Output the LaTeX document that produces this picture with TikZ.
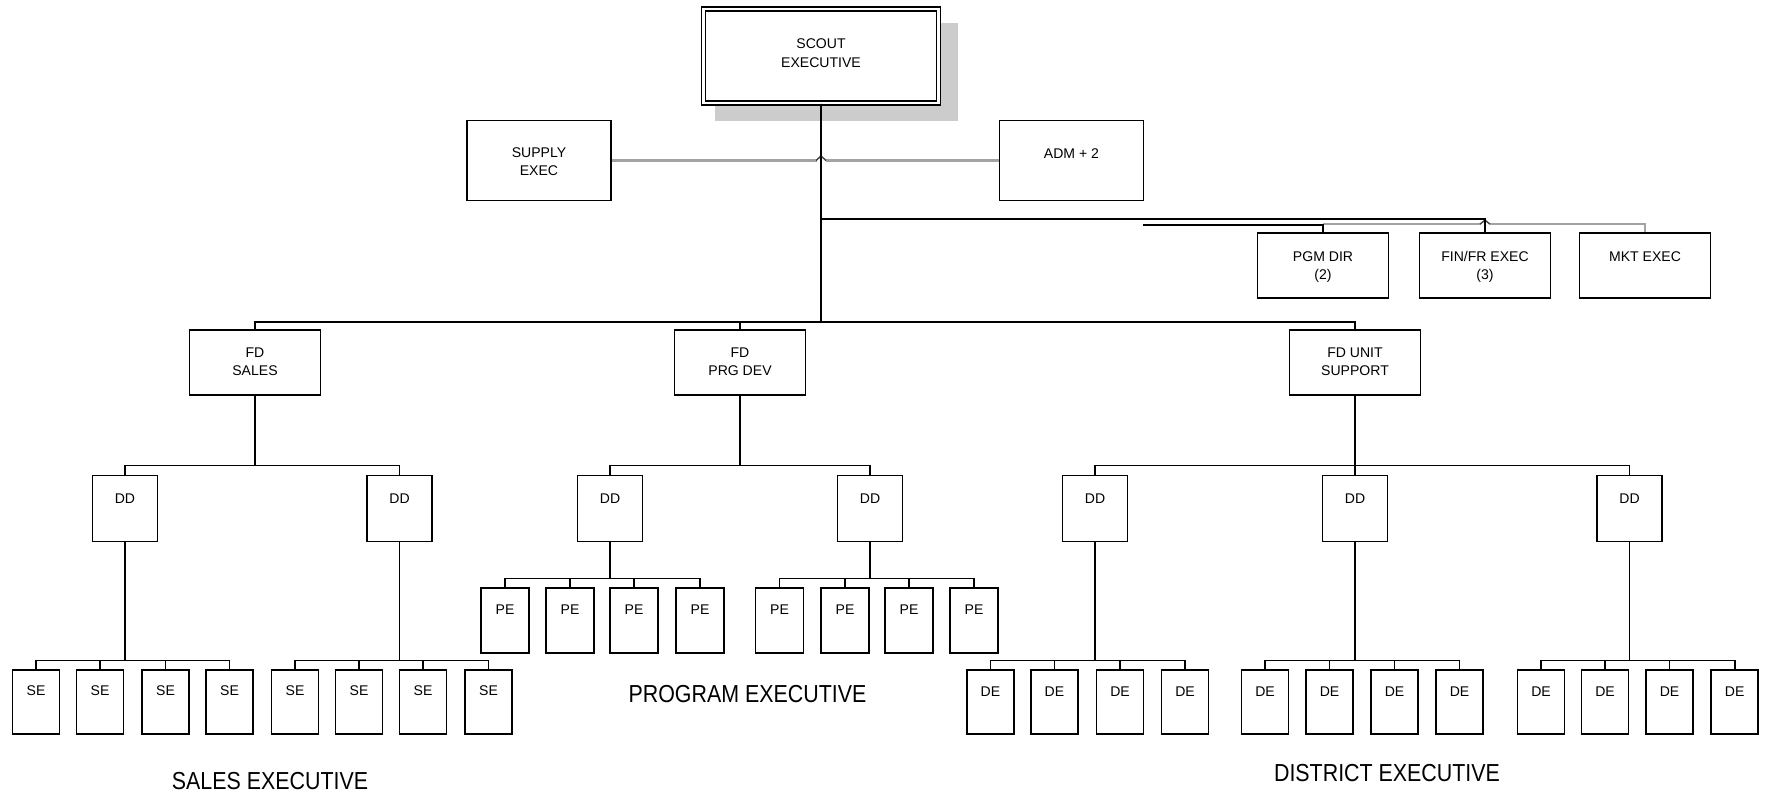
\documentclass[tikz,border=0pt]{standalone}
\usepackage{fontspec}
\setmainfont{Liberation Sans}
\newfontfamily\captionfont[FakeStretch=0.87]{Liberation Sans}
\begin{document}
\begin{tikzpicture}[x=0.02cm,y=-0.02cm,
  box/.style={draw, line width=0.95pt, inner sep=0pt, fill=white},
  scoutbox/.style={draw, fill=white, line width=0.8pt, double, double distance=1.5pt,
    inner sep=0pt, minimum width=4.71cm, minimum height=1.88cm},
  sidebox/.style={box, minimum width=2.88cm, minimum height=1.6cm},
  midbox/.style={box, minimum width=2.62cm, minimum height=1.3cm},
  ddbox/.style={box, minimum width=1.3cm, minimum height=1.32cm},
  pebox/.style={box, minimum width=0.96cm, minimum height=1.3cm},
  sebox/.style={box, minimum width=0.94cm, minimum height=1.28cm},
  boxtext/.style={anchor=north, inner sep=0pt, align=center,
    font=\fontsize{8}{10.2}\selectfont},
  txt/.style 2 args={label={[boxtext, yshift=-#1]north:{#2}}},
  caption/.style={inner sep=0pt, font=\captionfont\fontsize{14}{16}\selectfont},
  conn/.style={draw=black, line width=0.9pt},
  grayline/.style={draw=black!36, line width=1.5pt},
  hop/.style={draw=black!75, line width=0.8pt},
]
\useasboundingbox (0,0) rectangle (1765,795);

% shadow behind the top box
\fill[black!20] (715,23) rectangle (958,121);

% top of the chart
\node[scoutbox, label={[boxtext, font=\fontsize{8}{10.8}\selectfont, yshift=-0.6cm]north:{SCOUT\\EXECUTIVE}}] (scout) at (821,56) {};
\node[sidebox, txt={0.56cm}{SUPPLY\\EXEC}] (supply) at (539,160.5) {};
\node[sidebox, txt={0.58cm}{ADM + 2}] (adm) at (1071.5,160.5) {};

% staff row
\node[midbox, txt={0.38cm}{PGM DIR\\(2)}] (pgm) at (1323,265.5) {};
\node[midbox, txt={0.38cm}{FIN/FR EXEC\\(3)}] (fin) at (1485,265.5) {};
\node[midbox, txt={0.38cm}{MKT EXEC}] (mkt) at (1645,265.5) {};

% field directors
\node[midbox, txt={0.36cm}{FD\\SALES}] (fds) at (255,362.5) {};
\node[midbox, txt={0.36cm}{FD\\PRG DEV}] (fdp) at (740,362.5) {};
\node[midbox, txt={0.36cm}{FD UNIT\\SUPPORT}] (fdu) at (1355,362.5) {};

% district directors
\foreach \n/\x in {dd1/125, dd2/399.5, dd3/610, dd4/870, dd5/1095, dd6/1355, dd7/1629.5}
  \node[ddbox, txt={0.38cm}{DD}] (\n) at (\x,508.5) {};

% program executives
\foreach \n/\x in {pe1/505, pe2/570, pe3/634, pe4/700, pe5/779.5, pe6/845, pe7/909, pe8/974}
  \node[pebox, txt={0.34cm}{PE}] (\n) at (\x,620.5) {};

% sales executives
\foreach \n/\x in {se1/36, se2/100, se3/165.5, se4/229.5, se5/295, se6/359, se7/423, se8/488.5}
  \node[sebox, txt={0.32cm}{SE}] (\n) at (\x,702) {};

% district executives
\foreach \n/\x in {de1/990.5, de2/1054.5, de3/1120, de4/1185, de5/1265, de6/1329.5,
                   de7/1394.5, de8/1459.5, de9/1541, de10/1605, de11/1669.5, de12/1734.7}
  \node[sebox, txt={0.34cm}{DE}] (\n) at (\x,702) {};

% group captions
\node[caption] (salescap) at (270,781) {SALES EXECUTIVE};
\node[caption] (progcap) at (747.5,694.5) {PROGRAM EXECUTIVE};
\node[caption] (distcap) at (1387,773) {DISTRICT EXECUTIVE};

% staff lines (gray) with hops over the black verticals
\coordinate (x1) at (supply.east -| scout.south);
\draw[grayline] (supply.east) -- ([xshift=-0.09cm]x1);
\draw[grayline] ([xshift=0.09cm]x1) -- (adm.west);
\draw[hop] ([xshift=-0.1cm]x1) -- ([yshift=0.09cm]x1) -- ([xshift=0.1cm]x1);

\coordinate (x2) at ([yshift=0.16cm]fin.north);
\draw[grayline] ([yshift=0.16cm]pgm.north) -- ([xshift=-0.09cm]x2);
\draw[grayline] ([xshift=0.09cm]x2) -| (mkt.north);
\draw[hop] ([xshift=-0.1cm]x2) -- ([yshift=0.08cm]x2) -- ([xshift=0.1cm]x2);

% black reporting lines at the top
\coordinate (stub) at (1143,225);
\draw[conn] (stub) -| (pgm.north);
\draw[conn] (scout.south) |- ([yshift=0.26cm]fin.north) -- (fin.north);
\foreach \c in {fds, fdp, fdu}
  \draw[conn] (scout.south) |- ([yshift=0.14cm]\c.north) -- (\c.north);

% field directors to district directors
\foreach \p/\c in {fds/dd1, fds/dd2, fdp/dd3, fdp/dd4, fdu/dd5, fdu/dd6, fdu/dd7}
  \draw[conn] (\p.south) |- ([yshift=0.18cm]\c.north) -- (\c.north);

% district directors to their executives
\foreach \p/\c in {dd3/pe1, dd3/pe2, dd3/pe3, dd3/pe4, dd4/pe5, dd4/pe6, dd4/pe7, dd4/pe8,
                   dd1/se1, dd1/se2, dd1/se3, dd1/se4, dd2/se5, dd2/se6, dd2/se7, dd2/se8,
                   dd5/de1, dd5/de2, dd5/de3, dd5/de4, dd6/de5, dd6/de6, dd6/de7, dd6/de8,
                   dd7/de9, dd7/de10, dd7/de11, dd7/de12}
  \draw[conn] (\p.south) |- ([yshift=0.17cm]\c.north) -- (\c.north);
\end{tikzpicture}
\end{document}
